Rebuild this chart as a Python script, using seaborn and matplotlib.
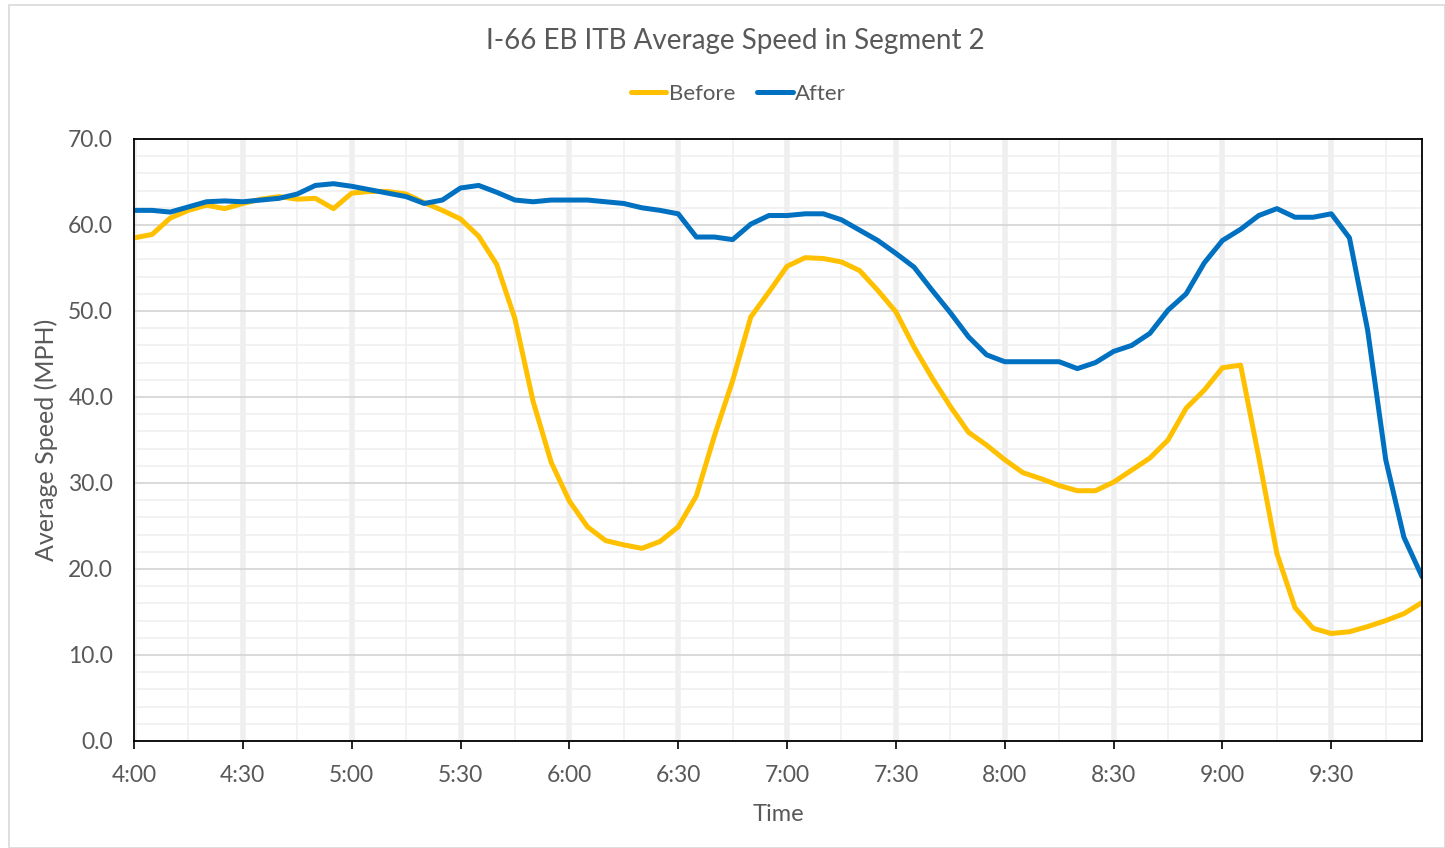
import numpy as np
import pandas as pd
import matplotlib
matplotlib.use("Agg")
import matplotlib.pyplot as plt
from matplotlib.ticker import FuncFormatter, MultipleLocator
import seaborn as sns

# 5-minute samples from 4:00 to 9:55
minutes = list(range(0, 360, 5))

before = [58.5, 58.9, 60.8, 61.7, 62.3, 61.9, 62.5, 63.0, 63.3, 63.0, 63.1, 61.9,
          63.7, 63.9, 63.9, 63.6, 62.6, 61.7, 60.7, 58.7, 55.4, 49.1, 39.5, 32.4,
          27.9, 24.9, 23.3, 22.8, 22.4, 23.2, 24.9, 28.5, 35.5, 41.9, 49.3, 52.2,
          55.2, 56.2, 56.1, 55.7, 54.7, 52.4, 49.9, 45.8, 42.2, 38.9, 35.9, 34.4,
          32.7, 31.2, 30.5, 29.7, 29.1, 29.1, 30.1, 31.5, 32.9, 35.0, 38.7, 40.8,
          43.4, 43.7, 33.0, 21.8, 15.5, 13.1, 12.5, 12.7, 13.3, 14.0, 14.8, 16.1]

after = [61.7, 61.7, 61.5, 62.1, 62.7, 62.8, 62.7, 62.9, 63.1, 63.6, 64.6, 64.8,
         64.5, 64.1, 63.7, 63.3, 62.5, 62.9, 64.3, 64.6, 63.8, 62.9, 62.7, 62.9,
         62.9, 62.9, 62.7, 62.5, 62.0, 61.7, 61.3, 58.6, 58.6, 58.3, 60.1, 61.1,
         61.1, 61.3, 61.3, 60.6, 59.4, 58.2, 56.7, 55.1, 52.4, 49.8, 47.0, 44.9,
         44.1, 44.1, 44.1, 44.1, 43.3, 44.0, 45.3, 46.0, 47.4, 50.1, 52.0, 55.6,
         58.2, 59.5, 61.1, 61.9, 60.9, 60.9, 61.3, 58.5, 47.8, 32.7, 23.7, 19.1]

series_names = ["Before", "After"]
colors = {"Before": "#FFC000", "After": "#0070C0"}

df = pd.DataFrame({
    "minute": minutes * 2,
    "speed": before + after,
    "period": ["Before"] * len(before) + ["After"] * len(after),
})

sns.set_style("white")
plt.rcParams["font.family"] = ["Lato", "DejaVu Sans"]
text_color = "#595959"

fig = plt.figure(figsize=(14.45, 8.48), dpi=100)
ax = fig.add_axes([0.0927, 0.1262, 0.8914, 0.7099])

sns.lineplot(data=df, x="minute", y="speed", hue="period", hue_order=series_names,
             palette=colors, linewidth=3.6, ax=ax, legend=False)

ax.set_xlim(0, 355)
ax.set_ylim(0, 70)

# gridlines similar to excel style
ax.yaxis.set_major_locator(MultipleLocator(10))
ax.yaxis.set_minor_locator(MultipleLocator(2))
ax.xaxis.set_major_locator(MultipleLocator(30))
ax.xaxis.set_minor_locator(MultipleLocator(15))
ax.grid(which="minor", axis="y", color="#f0f0f0", linewidth=1.2)
ax.grid(which="major", axis="y", color="#d9d9d9", linewidth=1.4)
ax.grid(which="minor", axis="x", color="#f0f0f0", linewidth=1.2)
ax.grid(which="major", axis="x", color="#efefef", linewidth=4.0)
ax.set_axisbelow(True)

ax.xaxis.set_major_formatter(FuncFormatter(lambda v, p: f"{4 + int(v) // 60}:{int(v) % 60:02d}"))
ax.yaxis.set_major_formatter(FuncFormatter(lambda v, p: f"{v:.1f}"))
ax.tick_params(axis="x", which="major", direction="out", length=6, width=1.2,
               color="black", labelsize=16.5, labelcolor=text_color, pad=11, bottom=True)
ax.tick_params(axis="x", which="minor", length=0)
ax.tick_params(axis="y", which="both", length=0, labelsize=16.5, labelcolor=text_color, pad=15)

for sp in ax.spines.values():
    sp.set_visible(True)
    sp.set_color("black")
    sp.set_linewidth(1.3)

ax.set_xlabel("Time", fontsize=17, color=text_color, labelpad=13)
ax.set_ylabel("Average Speed (MPH)", fontsize=18, color=text_color)
ax.yaxis.set_label_coords(-0.059, 0.5)

fig.text(0.509, 0.952, "I-66 EB ITB Average Speed in Segment 2", ha="center", va="center",
         fontsize=20, color=text_color)

handles = [plt.Line2D([], [], color=colors[n], linewidth=3.6) for n in series_names]
fig.legend(handles, series_names, loc="center", bbox_to_anchor=(0.511, 0.889), ncol=2,
           frameon=False, fontsize=16, handlelength=1.6, handletextpad=0.1,
           columnspacing=1.0, labelcolor=text_color)

# light outer frame of the chart area
fig.patches.append(plt.Rectangle((0.006, 0.0), 0.994, 0.994, transform=fig.transFigure,
                                 fill=False, edgecolor="#d9d9d9", linewidth=1.2))

fig.savefig("out.png", dpi=100, facecolor="white")
